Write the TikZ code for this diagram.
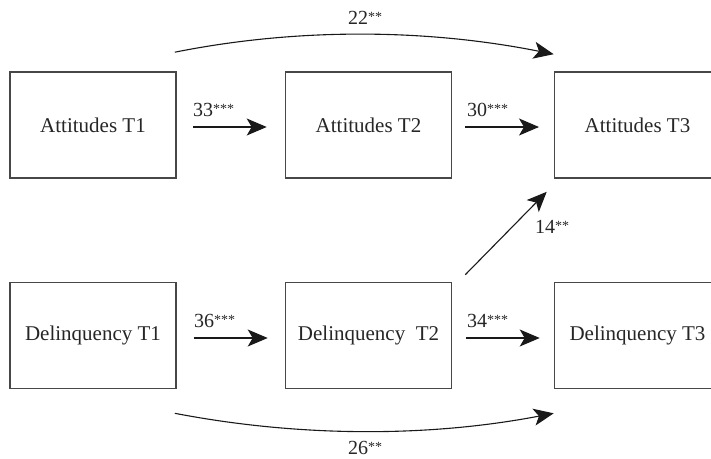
\documentclass[tikz,border=0pt]{standalone}
\usepackage{fontspec}
\setmainfont{Liberation Serif}
\usetikzlibrary{arrows.meta,calc}
\newcommand{\sigstars}[1]{{\fontsize{14}{14}\selectfont\raisebox{2.5pt}{#1}}}
\begin{document}
\begin{tikzpicture}[x=1pt,y=-1pt,
  box/.style={draw=black!72, line width=1.6pt, minimum width=166pt, minimum height=106pt, inner sep=0pt, font=\fontsize{21}{24}\selectfont, text=black!85},
  link/.style={draw=black!90, line width=1.1pt, -{Stealth[length=20pt,width=17pt,inset=5pt]}},
  lab/.style={font=\fontsize{20}{24}\selectfont, text=black!85, inner sep=0pt}]
\useasboundingbox (0,0) rectangle (711,458);
\clip (0,0) rectangle (711,458);
% boxes
\node[box] (A1) at (93,125) {Attitudes T1};
\node[box] (A2) at (368.5,125) {Attitudes T2};
\node[box] (A3) at (637.5,125) {Attitudes T3};
\node[box] (D1) at (93,335.5) {Delinquency T1};
\node[box] (D2) at (368.5,335.5) {Delinquency\enspace T2};
\node[box] (D3) at (637.5,335.5) {Delinquency T3};
% horizontal paths
\draw[link, shorten <=16pt, shorten >=18pt] ([yshift=-2pt]A1.east) -- ([yshift=-2pt]A2.west);
\draw[link, shorten <=13pt, shorten >=14.7pt] ([yshift=-2pt]A2.east) -- ([yshift=-2pt]A3.west);
\draw[link, shorten <=17pt, shorten >=17pt] ([yshift=-2.5pt]D1.east) -- ([yshift=-2.5pt]D2.west);
\draw[link, shorten <=14pt, shorten >=14pt] ([yshift=-2.5pt]D2.east) -- ([yshift=-2.5pt]D3.west);
\node[lab, anchor=base west] (l33) at (193,116) {33\sigstars{***}};
\node[lab, anchor=base west] (l30) at (467,116) {30\sigstars{***}};
\node[lab, anchor=base west] (l36) at (194,327) {36\sigstars{***}};
\node[lab, anchor=base west] (l34) at (467,327) {34\sigstars{***}};
% long arcs
\coordinate (ts) at ($(A1.north east)+(-2,-19)$);
\coordinate (te) at ($(A3.north west)+(0,-17)$);
\draw[link] (ts) .. controls ($(ts)+(125,-25)$) and ($(te)+(-125,-25)$) .. (te);
\node[lab, anchor=base] (l22) at (365,24) {22\sigstars{**}};
\coordinate (bs) at ($(D1.south east)+(-2,24)$);
\coordinate (be) at ($(D3.south west)+(0,24)$);
\draw[link] (bs) .. controls ($(bs)+(125,24)$) and ($(be)+(-125,24)$) .. (be);
\node[lab, anchor=base] (l26) at (365,454) {26\sigstars{**}};
% cross-lagged
\coordinate (ds) at ($(D2.north east)+(13,-7)$);
\coordinate (de) at ($(A3.south west)+(-7,13)$);
\draw[link] (ds) -- (de);
\node[lab, anchor=base] (l14) at (552,233) {14\sigstars{**}};
\end{tikzpicture}
\end{document}
